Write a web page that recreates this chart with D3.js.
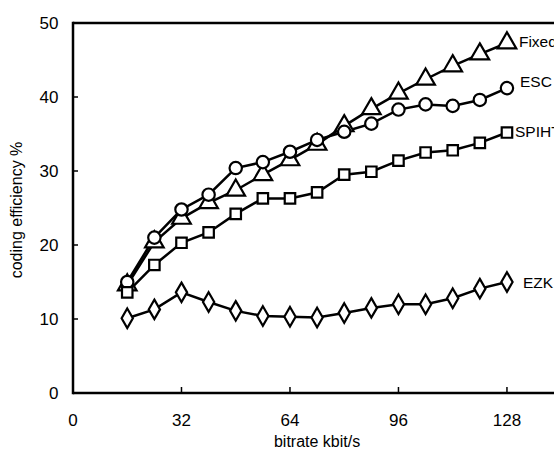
<!DOCTYPE html>
<html><head><meta charset="utf-8">
<script src="https://cdn.jsdelivr.net/npm/d3@7"></script>
<style>body{margin:0;background:#fff}svg{display:block;font-family:"Liberation Sans",Arial,sans-serif}</style>
</head><body><svg id="c" width="554" height="451"></svg>
<script>
const bitrates = [16,24,32,40,48,56,64,72,80,88,96,104,112,120,128];
const fixedVals = [14.6,20.4,23.6,25.7,27.4,29.5,31.5,33.6,36.1,38.4,40.5,42.4,44.2,45.8,47.3];
const escVals   = [15.0,21.0,24.8,26.8,30.4,31.2,32.6,34.2,35.3,36.4,38.3,39.0,38.8,39.6,41.2];
const spihtVals = [13.6,17.3,20.3,21.7,24.2,26.3,26.3,27.1,29.5,29.9,31.4,32.5,32.8,33.8,35.2];
const ezkVals   = [10.1,11.3,13.6,12.3,11.1,10.4,10.3,10.2,10.8,11.5,12.0,12.0,12.8,14.1,15.0];
const seriesNames = ["Fixed","ESC","SPIHT","EZK"];
const xTicks = [0,32,64,96,128];
const yTicks = [0,10,20,30,40,50];

const svg = d3.select("#c");
const x = d3.scaleLinear().domain([0,144]).range([73,561.2]);
const y = d3.scaleLinear().domain([0,50]).range([393,23]);

// frame
svg.append("line").attr("x1",73).attr("x2",x(144)).attr("y1",y(50)).attr("y2",y(50)).attr("stroke","#000").attr("stroke-width",2.5);
svg.append("line").attr("x1",73).attr("x2",x(144)).attr("y1",y(0)).attr("y2",y(0)).attr("stroke","#000").attr("stroke-width",2.5);
svg.append("line").attr("x1",x(0)).attr("x2",x(0)).attr("y1",y(50)-1.25).attr("y2",y(0)+1.25).attr("stroke","#000").attr("stroke-width",2.5);

// ticks
svg.selectAll(".yt").data(yTicks.filter(d=>d>0&&d<50)).enter().append("line")
  .attr("x1",x(0)).attr("x2",x(0)+5).attr("y1",d=>y(d)).attr("y2",d=>y(d)).attr("stroke","#000").attr("stroke-width",1.5);
svg.selectAll(".xt").data(xTicks.filter(d=>d>0)).enter().append("line")
  .attr("x1",d=>x(d)).attr("x2",d=>x(d)).attr("y1",y(0)).attr("y2",y(0)-6).attr("stroke","#000").attr("stroke-width",1.5);

svg.selectAll(".yl").data(yTicks).enter().append("text")
  .attr("x",58.5).attr("y",d=>y(d)).attr("dy","0.36em").attr("text-anchor","end")
  .attr("font-size",17).text(d=>d);
svg.selectAll(".xl").data(xTicks).enter().append("text")
  .attr("x",d=>x(d)).attr("y",426).attr("text-anchor","middle")
  .attr("font-size",17).text(d=>d);

svg.append("text").attr("x",(x(0)+x(144))/2).attr("y",447).attr("text-anchor","middle").attr("font-size",16).text("bitrate kbit/s");
svg.append("text").attr("transform","translate(22,210) rotate(-90)").attr("text-anchor","middle").attr("font-size",16).text("coding efficiency %");

const series = [
  {name:seriesNames[0], vals:fixedVals, sym:d3.symbolTriangle, size:150},
  {name:seriesNames[1], vals:escVals, sym:d3.symbolCircle, size:120},
  {name:seriesNames[2], vals:spihtVals, sym:d3.symbolSquare, size:110},
  {name:seriesNames[3], vals:ezkVals, sym:d3.symbolDiamond, size:110}
];
const line = d3.line().x(d=>x(d[0])).y(d=>y(d[1]));
series.forEach(s=>{
  const pts = bitrates.map((b,i)=>[b,s.vals[i]]);
  svg.append("path").attr("d",line(pts)).attr("fill","none").attr("stroke","#000").attr("stroke-width",2.5);
});
series.forEach(s=>{
  const pts = bitrates.map((b,i)=>[b,s.vals[i]]);
  svg.selectAll(null).data(pts).enter().append("path")
    .attr("d",d3.symbol().type(s.sym).size(s.size))
    .attr("transform",d=>`translate(${x(d[0])},${y(d[1])})`)
    .attr("fill","#fff").attr("stroke","#000").attr("stroke-width",2.2);
});
// series labels
const labelOffsets = [
  {dx:12, dy:-2},
  {dx:13, dy:-7},
  {dx:8, dy:-1},
  {dx:16, dy:0}
];
series.forEach((s,i)=>{
  const last = s.vals[s.vals.length-1];
  svg.append("text").attr("x",x(128)+labelOffsets[i].dx).attr("y",y(last)+labelOffsets[i].dy)
    .attr("dy","0.36em").attr("font-size",15.5).text(s.name);
});
</script></body></html>
